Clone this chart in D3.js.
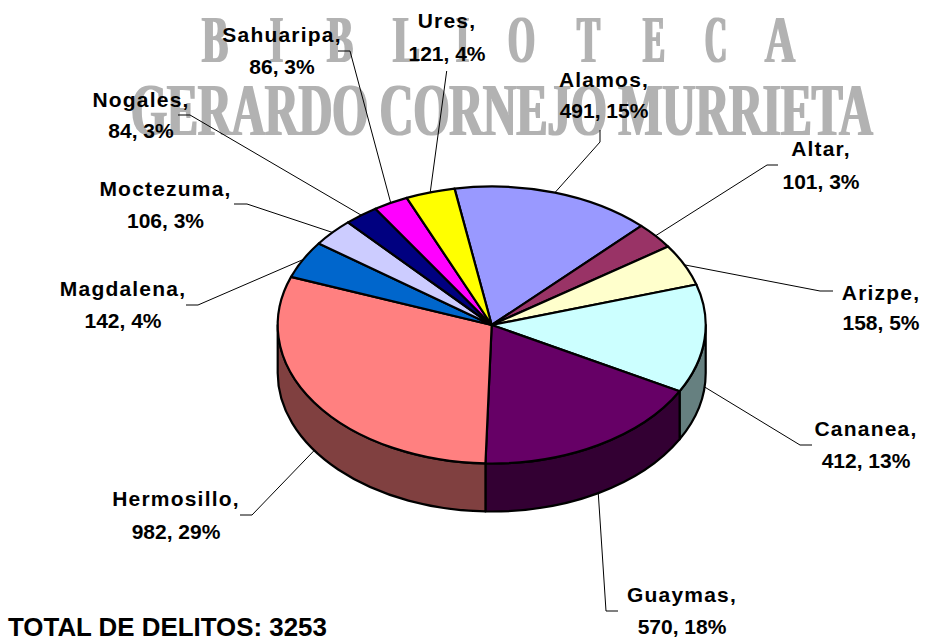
<!DOCTYPE html>
<html>
<head>
<meta charset="utf-8">
<style>
html,body{margin:0;padding:0;background:#fff;}
svg{display:block;}
.lab{font-family:"Liberation Sans",Arial,sans-serif;font-weight:700;fill:#000;text-anchor:middle;}
</style>
<script src="https://cdn.jsdelivr.net/npm/d3@7/dist/d3.min.js"></script>
</head>
<body>
<svg id="c" width="925" height="638"></svg>
<script>
// ---- data ----
const categories = ["Alamos","Altar","Arizpe","Cananea","Guaymas","Hermosillo","Magdalena","Moctezuma","Nogales","Sahuaripa","Ures"];
const delitos    = [491,101,158,412,570,982,142,106,84,86,121];
const percents   = [15,3,5,13,18,29,4,3,3,3,4];
const topColors  = ["#9999FF","#993366","#FFFFCC","#CCFFFF","#660066","#FF8080","#0066CC","#CCCCFF","#000080","#FF00FF","#FFFF00"];
const sideColors = ["#4D4D80","#4D1A33","#808066","#668080","#330033","#804040","#003366","#666680","#000040","#800080","#808000"];
const totalText  = "TOTAL DE DELITOS: 3253";
const watermarkLine1 = "BIBLIOTECA";
const watermarkLine2 = "GERARDO CORNEJO MURRIETA";

// ---- layout ----
const W = 925, H = 638;
const cx = 491.7, cy = 325, rx = 214, ry = 138.5, depth = 48;
const startDeg = -10;
// label centre x, first and second baseline, leader elbow (text end, bend)
const labelX    = [604,821,881,866,682,176,123,165.5,141,282,447];
const labelY1   = [87,156,300,436,602,506,296,196,107,42,28];
const labelY2   = [118,189,330,468,634,539,328,228,138,74,61];
const elbowA    = [[600,130],[778,165],[833,291],[812,445],[618,611],[240,515],[186,305],[234,204],[178,115],[338,51],[446.7,71]];
const elbowB    = [[600,142],[767,165],[820,291],[800,445],[606,611],[252,515],[198,305],[247,204],[190,115],[350,51],null];
const wmX1      = [202,270,327,393,456,508,577,643,705,765];
const wmW1      = [26,13,26,27,13,27,23,22,22,30];

const svg = d3.select("#c");
const defs = svg.append("defs");
const soft = defs.append("filter").attr("id","soft").attr("x","-5%").attr("y","-5%").attr("width","110%").attr("height","110%");
soft.append("feMorphology").attr("operator","dilate").attr("radius","1 0");
soft.append("feGaussianBlur").attr("stdDeviation",0.6);

// watermark: condensed serif letters, each squeezed to its measured width
const wm = svg.append("g").attr("filter","url(#soft)")
  .attr("font-family","'Liberation Serif',serif").attr("font-weight",700)
  .attr("fill","#b2b2b2");
function squeezed(str, x, y, size, width){
  const t = wm.append("text").attr("font-size",size).text(str);
  const natural = t.node().getComputedTextLength();
  t.attr("transform",`translate(${x},${y}) scale(${width/natural},1)`);
}
watermarkLine1.split("").forEach((ch,i)=>squeezed(ch,wmX1[i],62,67,wmW1[i]));
squeezed(watermarkLine2,131,134.5,75,742);

// pie
const pie = d3.pie().sort(null).value(d=>d)
  .startAngle(startDeg*Math.PI/180).endAngle((startDeg+360)*Math.PI/180);
const arcs = pie(delitos);
const px = a => cx + rx*Math.sin(a);
const py = a => cy - ry*Math.cos(a);
const HALF = Math.PI/2, TH = 3*Math.PI/2;

// side walls (the front half of the rim)
const walls = arcs.map((d,i)=>({i,a0:Math.max(d.startAngle,HALF),a1:Math.min(d.endAngle,TH)})).filter(d=>d.a1>d.a0);
svg.append("g").selectAll("path").data(walls).join("path")
  .attr("d",d=>`M${px(d.a0)},${py(d.a0)}A${rx},${ry} 0 0 1 ${px(d.a1)},${py(d.a1)}L${px(d.a1)},${py(d.a1)+depth}A${rx},${ry} 0 0 0 ${px(d.a0)},${py(d.a0)+depth}Z`)
  .attr("fill",d=>sideColors[d.i]).attr("stroke","#000").attr("stroke-width",2.2).attr("stroke-linejoin","round");

// top slices
svg.append("g").selectAll("path").data(arcs).join("path")
  .attr("d",d=>{
    const large = d.endAngle-d.startAngle>Math.PI?1:0;
    return `M${cx},${cy}L${px(d.startAngle)},${py(d.startAngle)}A${rx},${ry} 0 ${large} 1 ${px(d.endAngle)},${py(d.endAngle)}Z`;
  })
  .attr("fill",(d,i)=>topColors[i]).attr("stroke","#000").attr("stroke-width",2.2).attr("stroke-linejoin","round");

// leaders: from the elbow to the rim at each slice's mid angle
const line = d3.line();
svg.append("g").selectAll("path").data(arcs).join("path")
  .attr("d",(d,i)=>{
    const m=(d.startAngle+d.endAngle)/2;
    const nm=((m%(2*Math.PI))+2*Math.PI)%(2*Math.PI);
    const rim=[px(m),py(m)+(nm>HALF&&nm<TH?depth:0)];
    return line([elbowA[i],elbowB[i],rim].filter(Boolean));
  })
  .attr("fill","none").attr("stroke","#000").attr("stroke-width",1);

// labels
const lab = svg.append("g").attr("class","labels");
lab.selectAll("text.n").data(categories).join("text").attr("class","lab n")
  .attr("x",(d,i)=>labelX[i]).attr("y",(d,i)=>labelY1[i])
  .attr("font-size",21).attr("letter-spacing",1.2).text(d=>d+",");
lab.selectAll("text.v").data(delitos).join("text").attr("class","lab v")
  .attr("x",(d,i)=>labelX[i]).attr("y",(d,i)=>labelY2[i])
  .attr("font-size",21).text((d,i)=>`${d}, ${percents[i]}%`);

svg.append("text").attr("x",8).attr("y",635.5)
  .attr("font-family","'Liberation Sans',Arial,sans-serif").attr("font-weight",700)
  .attr("font-size",25.9).text(totalText);
</script>
</body>
</html>
